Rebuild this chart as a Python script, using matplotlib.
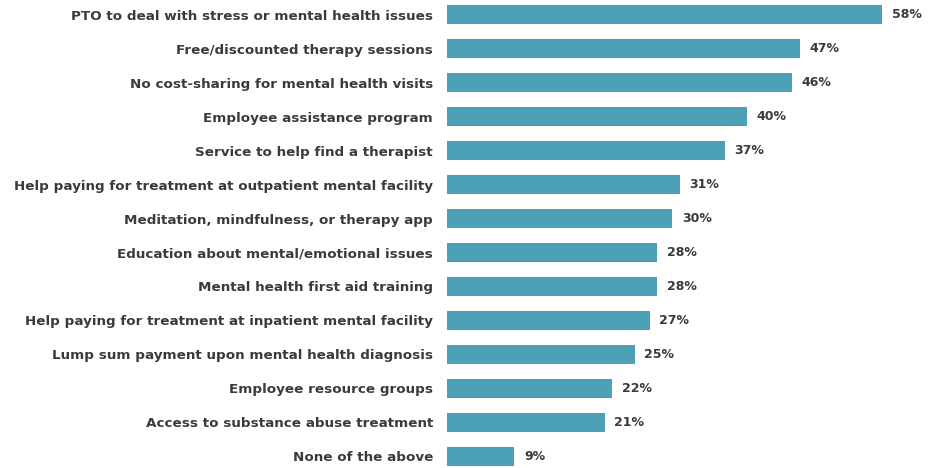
import matplotlib.pyplot as plt

# Datos del grafico
categorias = [
    "PTO to deal with stress or mental health issues",
    "Free/discounted therapy sessions",
    "No cost-sharing for mental health visits",
    "Employee assistance program",
    "Service to help find a therapist",
    "Help paying for treatment at outpatient mental facility",
    "Meditation, mindfulness, or therapy app",
    "Education about mental/emotional issues",
    "Mental health first aid training",
    "Help paying for treatment at inpatient mental facility",
    "Lump sum payment upon mental health diagnosis",
    "Employee resource groups",
    "Access to substance abuse treatment",
    "None of the above",
]
porcentajes = [58, 47, 46, 40, 37, 31, 30, 28, 28, 27, 25, 22, 21, 9]

COLOR_BARRA = "#4da1b6"
COLOR_TEXTO = "#3a3a3a"

plt.rcParams['font.family'] = ['DejaVu Sans']

fig = plt.figure(figsize=(9.38, 4.68), dpi=100)
ax = fig.add_axes([0.4765, 0.0, 0.52, 1.0])

posiciones = list(range(len(categorias)))
ax.barh(posiciones, porcentajes, height=0.56, color=COLOR_BARRA)

for y, v in zip(posiciones, porcentajes):
    ax.text(v + 1.3, y, f"{v}%", va='center', ha='left', fontsize=9,
            fontweight='bold', color=COLOR_TEXTO)

ax.set_yticks(posiciones)
ax.set_yticklabels(categorias, fontsize=9.7, fontweight='semibold', color=COLOR_TEXTO)
ax.tick_params(axis='y', length=0, pad=10)
ax.set_xticks([])
ax.set_xlim(0, 65)
ax.set_ylim(13.35, -0.44)
for lado in ax.spines.values():
    lado.set_visible(False)

fig.savefig("out.png", dpi=100)
